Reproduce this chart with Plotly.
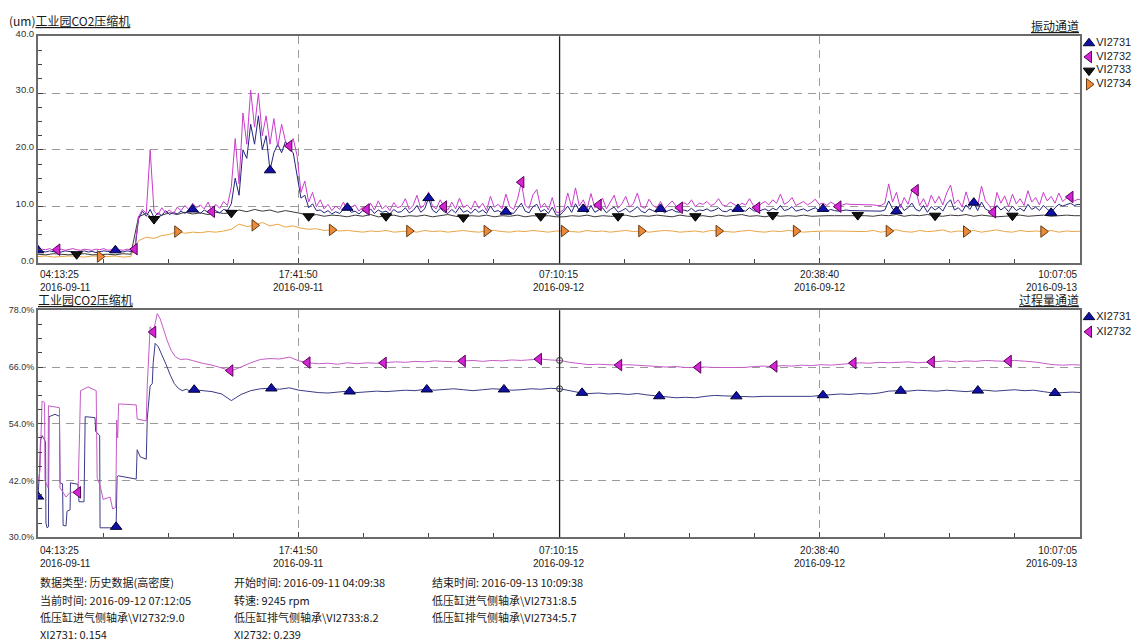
import numpy as np
import pandas as pd
import plotly.graph_objects as go

# ---------------------------------------------------------------------------
# Time base
# ---------------------------------------------------------------------------
W, H = 1136, 644
START = pd.Timestamp("2016-09-11 04:13:25")
TICK_STEP = pd.Timedelta(hours=13, minutes=28, seconds=25)
N_TICKS = 5
CURSOR = pd.Timestamp("2016-09-12 07:12:05")

FAST_STEP_H = 0.2   # 12-minute samples (VI2731 / VI2732)
SLOW_STEP_H = 0.4   # 24-minute samples (VI2733 / VI2734)
TAIL_STEP_H = 0.5   # 30-minute samples (XI tails)
TAIL_START_H = 8.5

# ---------------------------------------------------------------------------
# Vibration channels (um)
# ---------------------------------------------------------------------------
vi2731 = [
    2.3, 2.1, 2.0, 2.2, 2.1, 1.9, 2.0, 2.2, 2.1, 2.0, 1.9, 2.1, 2.2, 2.0, 2.1, 1.9, 2.0, 2.2, 2.1, 2.0,
    2.3, 2.1, 2.0, 2.2, 2.1, 2.0,
    7.8, 9.2, 8.3, 9.5, 8.1, 8.9, 8.4, 9.3, 8.6, 9.0, 8.7, 9.2, 8.8, 9.4, 9.5, 9.1, 8.8, 9.4, 9.0, 9.6,
    9.2, 8.9, 9.5, 9.3,
    10.5, 15.0, 12.0, 20.0, 18.5, 24.5, 21.0, 26.0, 20.0, 22.5, 16.4, 19.5, 21.0, 19.5, 21.5, 20.0,
    19.5, 15.5, 11.5, 12.0, 9.8, 10.5, 9.3,
    9.4, 8.9, 9.3, 8.7, 9.1, 8.8, 9.5, 9.8, 9.0, 9.2,
    8.7, 9.3, 8.9, 9.6, 8.8, 9.4, 9.0, 9.2, 8.7, 9.5,
    9.0, 9.1, 9.8, 8.9, 9.3, 10.2, 9.0, 9.6, 11.5, 9.4,
    8.9, 9.7, 9.1, 8.8, 9.5, 8.9, 9.9, 9.0, 9.3, 8.8,
    9.6, 9.0, 9.4, 8.8, 10.1, 9.1, 9.3, 8.9, 9.1, 9.0,
    8.8, 9.7, 10.6, 9.2, 8.9, 10.0, 10.4, 9.1, 9.5, 8.8,
    9.9, 8.5, 8.5, 9.2, 10.1, 9.0, 10.5, 9.3, 9.6, 8.9,
    10.2, 9.0, 9.4, 9.8, 8.9, 9.5, 9.9, 9.0, 9.3, 9.7,
    9.0, 9.4, 10.0, 9.2, 8.9, 9.6, 9.3, 9.0, 9.6, 8.9,
    9.3, 9.5, 9.1, 9.0, 9.4, 9.2, 9.7, 9.1, 9.4, 9.3,
    9.6, 9.2, 9.4, 9.8, 9.2, 9.1, 9.5, 9.3, 9.6, 9.4,
    9.2, 9.8, 9.3, 9.1, 9.4, 9.6, 9.2, 9.7, 9.4, 10.2,
    9.3, 9.5, 10.0, 9.2, 9.4, 9.6, 9.2, 9.5, 9.8, 9.3,
    9.6, 9.2, 9.5, 9.3, 9.2, 9.3, 9.4, 9.3, 9.3, 9.3,
    9.3, 9.3, 9.2, 9.2, 9.2, 9.2, 9.4, 11.0, 9.6, 9.2,
    10.4, 9.3, 9.8, 10.6, 9.5, 9.2, 10.2, 9.0, 10.0, 9.4,
    9.9, 9.2, 10.5, 11.2, 9.4, 9.8, 9.1, 10.3, 9.5, 10.7,
    9.3, 10.8, 9.6, 9.2, 9.0, 10.2, 9.4, 9.9, 9.1, 10.1,
    9.3, 9.7, 9.2, 10.4, 9.5, 9.9, 9.3, 10.2, 9.6, 8.9,
    9.8, 10.4, 10.1, 10.3, 10.6, 10.2, 10.4, 10.3,
]

vi2732 = [
    2.3, 2.5, 2.4, 2.6, 2.3, 2.4, 2.5, 2.3, 2.4, 2.6, 2.4, 2.3, 2.5, 2.4, 2.3, 2.5, 2.4, 2.6, 2.3, 2.4,
    2.5, 2.4, 2.3, 2.5, 2.4, 2.5,
    8.2, 9.5, 8.8, 20.0, 9.2, 8.5, 9.8, 8.9, 9.4, 8.7, 9.9, 9.3, 10.2, 9.5, 10.6, 9.8, 10.3, 9.6, 10.8,
    9.1, 10.4, 9.7, 10.9, 10.2,
    13.5, 22.0, 14.0, 26.5, 21.0, 30.5, 24.0, 30.0, 22.5, 26.0, 21.0, 25.5, 20.5, 24.5, 21.5, 20.7,
    22.0, 19.0, 12.5, 14.5, 10.8, 12.5, 10.0,
    11.2, 9.6, 10.4, 9.3, 10.1, 9.5, 10.8, 9.4, 9.9, 10.3,
    9.2, 10.0, 9.5, 10.6, 9.4, 11.0, 9.6, 10.2, 9.3, 10.7,
    9.8, 10.1, 11.4, 9.5, 10.2, 12.0, 9.7, 10.4, 12.6, 10.1,
    9.6, 11.2, 10.0, 9.4, 10.8, 9.6, 11.5, 9.8, 10.3, 9.5,
    11.0, 9.7, 10.6, 9.3, 11.8, 9.9, 10.4, 9.6, 12.2, 10.0,
    9.5, 11.3, 14.3, 10.2, 9.7, 12.1, 13.0, 9.8, 10.6, 9.4,
    11.6, 9.0, 9.0, 9.5, 12.4, 9.9, 13.3, 10.1, 11.2, 9.6,
    12.3, 9.8, 10.3, 11.5, 9.6, 10.8, 12.0, 9.7, 10.5, 11.8,
    9.9, 10.6, 12.4, 10.0, 9.7, 11.3, 10.2, 9.8, 10.9, 9.6,
    10.4, 11.0, 10.1, 9.8, 10.7, 10.3, 11.2, 10.0, 10.6, 10.4,
    10.9, 10.2, 10.5, 11.4, 10.3, 10.1, 10.8, 10.4, 10.0, 10.6,
    10.3, 11.4, 10.2, 9.8, 10.5, 10.9, 10.3, 11.2, 10.6, 12.2,
    10.4, 10.8, 11.6, 10.2, 10.5, 10.9, 10.3, 10.7, 11.3, 10.4,
    10.6, 10.2, 10.8, 10.4, 10.0, 10.3, 10.5, 10.4, 10.4, 10.4,
    10.4, 10.3, 10.3, 10.3, 10.2, 10.2, 10.6, 14.0, 10.8, 12.5,
    9.8, 11.6, 10.4, 12.8, 12.9, 10.2, 11.4, 9.9, 12.0, 10.6,
    11.8, 10.3, 12.4, 13.8, 10.5, 11.2, 9.9, 12.6, 10.4, 11.5,
    10.1, 13.6, 11.0, 10.2, 9.0, 12.5, 10.6, 11.9, 10.0, 12.2,
    10.5, 11.4, 10.2, 12.8, 10.8, 11.6, 10.3, 12.5, 11.0, 11.8,
    10.6, 12.4, 10.9, 11.5, 11.7, 11.0, 11.3, 11.1,
]

vi2733 = [
    1.6, 1.5, 1.7, 1.6, 1.5, 1.6, 1.7, 1.5, 1.6, 1.6, 1.5, 1.7, 1.6,
    8.2, 8.8, 7.8, 8.5, 8.9, 8.6, 9.0, 8.7, 8.9, 8.6, 9.0, 8.8, 8.9, 9.4, 9.1, 9.5, 9.2, 9.4, 9.0, 9.3,
    9.1, 8.8, 8.3, 8.6, 8.3, 8.5,
    8.4, 8.2, 8.5, 8.3, 8.6, 8.2, 8.3, 8.5, 8.2, 8.4,
    8.3, 8.5, 8.2, 8.4, 8.6, 8.3, 8.1, 8.4, 8.3, 8.5,
    8.2, 8.4, 8.3, 8.5, 8.2, 8.4, 8.3, 8.4, 8.2, 8.2,
    8.4, 8.3, 8.5, 8.2, 8.4, 8.3, 8.3, 8.5, 8.2, 8.4,
    8.3, 8.5, 8.4, 8.2, 8.5, 8.3, 8.3, 8.4, 8.2, 8.5,
    8.3, 8.4, 8.6, 8.3, 8.4, 8.2, 8.5, 8.3, 8.4, 8.3,
    8.5, 8.3, 8.4, 8.4, 8.4, 8.4, 8.4, 8.5, 8.4, 8.3,
    8.5, 8.4, 8.6, 8.3, 8.5, 8.4, 8.6, 8.4, 8.3, 8.5,
    8.4, 8.6, 8.3, 8.5, 8.4, 8.2, 8.3, 8.4, 8.5, 8.3,
    8.4, 8.5, 8.3, 8.4, 8.5, 8.4, 8.4,
]

vi2734 = [
    1.2, 1.3, 1.1, 1.2, 1.3, 1.2, 1.1, 1.3, 1.2, 1.2, 1.3, 1.1, 1.2,
    4.0, 4.6, 4.4, 4.9, 5.1, 5.6, 5.3, 5.5, 5.4, 5.6, 5.5, 5.7, 6.0, 6.9, 6.5, 6.7, 7.2, 6.6, 6.9, 6.4,
    6.6, 6.2, 6.0, 6.1, 5.8, 5.9,
    5.7, 5.8, 5.6, 5.5, 5.7, 5.6, 5.8, 5.5, 5.6, 5.7,
    5.5, 5.8, 5.6, 5.7, 5.5, 5.6, 5.8, 5.6, 5.5, 5.7,
    5.8, 5.6, 5.5, 5.7, 5.6, 5.8, 5.6, 5.5, 5.7, 5.7,
    5.6, 5.5, 5.8, 5.6, 5.7, 5.5, 5.6, 5.8, 5.6, 5.7,
    5.5, 5.6, 5.8, 5.7, 5.5, 5.6, 5.7, 5.5, 5.8, 5.7,
    5.6, 5.5, 5.7, 5.8, 5.6, 5.5, 5.7, 5.6, 5.8, 5.7,
    5.5, 5.6, 5.7, 5.7, 5.7, 5.7, 5.7, 5.7, 5.6, 5.8,
    5.5, 5.7, 5.9, 5.6, 5.5, 5.8, 5.6, 5.7, 5.9, 5.5,
    5.7, 5.6, 5.8, 5.5, 5.7, 5.9, 5.6, 5.5, 5.8, 5.6,
    5.7, 5.6, 5.8, 5.5, 5.7, 5.6, 5.7,
]

# marker positions along each vibration trace (hours after START)
vi2731_marks_h = [0.0, 4.0, 8.0, 12.0, 16.0, 20.2, 24.2, 28.2, 32.2, 36.2, 40.6, 44.4, 48.4, 52.4]
vi2732_marks_h = [1.0, 5.0, 9.0, 13.0, 17.0, 21.0, 25.0, 29.0, 33.2, 37.2, 41.4, 45.4, 49.4, 53.4]
vi2733_marks_h = [2.0, 6.0, 10.0, 14.0, 18.0, 22.0, 26.0, 30.0, 34.0, 38.0, 42.4, 46.4, 50.4]
vi2734_marks_h = [3.2, 7.2, 11.2, 15.2, 19.2, 23.2, 27.2, 31.2, 35.2, 39.2, 44.0, 48.0, 52.0]

# ---------------------------------------------------------------------------
# Process channels (%): stepped start-up section, then half-hour samples
# ---------------------------------------------------------------------------
xi2731_head_h = [0.00, 0.08, 0.13, 0.21, 0.31, 0.39, 0.41, 0.47, 0.54, 0.57, 0.88, 1.11, 1.14, 1.27,
                 1.30, 1.45, 1.50, 1.66, 1.68, 2.07, 2.12, 2.38, 2.44, 2.95, 2.98, 3.19, 3.21, 3.99,
                 4.04, 4.09, 4.15, 5.08, 5.13, 5.29, 5.60, 5.65, 5.80, 5.91, 5.96, 6.06, 6.22, 6.43,
                 6.63, 6.84, 7.05, 7.26, 7.46, 7.67, 7.88, 8.08]
xi2731_head_v = [38.6, 44.0, 50.5, 51.5, 50.8, 50.2, 33.0, 32.0, 32.2, 55.5, 56.0, 55.6, 41.5, 41.3,
                 32.5, 32.4, 35.5, 35.8, 41.5, 41.2, 37.5, 37.5, 55.5, 55.3, 52.4, 51.5, 32.0, 32.0,
                 32.2, 42.8, 43.0, 42.3, 48.5, 47.0, 46.5, 55.0, 62.0, 62.5, 67.0, 71.0, 70.3, 68.5,
                 66.5, 64.3, 62.5, 61.5, 61.0, 61.3, 60.9, 61.2]
xi2731_tail = [
    61.0, 60.8, 60.3, 58.9, 60.2, 61.0, 61.4, 61.5, 61.3, 61.6,
    61.1, 60.8, 60.6, 60.5, 60.7, 60.9, 60.6, 60.7, 60.9, 60.8,
    61.0, 61.1, 61.0, 61.3, 61.1, 61.2, 61.4, 61.2, 61.0, 61.2,
    61.4, 61.3, 61.1, 61.2, 61.4, 61.3, 61.5, 61.4, 61.0, 60.6,
    60.4, 60.5, 60.3, 60.4, 60.2, 60.4, 60.1, 59.9, 59.6, 59.5,
    59.6, 59.5, 59.8, 60.0, 59.9, 59.8, 59.8, 59.7, 59.8, 59.8,
    59.9, 59.8, 59.9, 59.8, 60.0, 60.2, 60.3, 60.2, 60.4, 60.3,
    60.5, 60.9, 61.0, 60.9, 61.1, 61.0, 60.9, 61.1, 61.0, 60.8,
    61.0, 61.1, 60.9, 61.0, 61.2, 61.0, 61.1, 60.8, 60.5, 60.6,
    60.7, 60.6,
]

xi2732_head_h = [0.00, 0.10, 0.21, 0.34, 0.36, 0.52, 0.54, 1.11, 1.14, 1.45, 1.66, 2.07, 2.15, 2.20,
                 2.59, 3.01, 3.06, 3.21, 3.37, 3.73, 3.86, 4.02, 4.07, 4.12, 4.17, 5.08, 5.13, 5.60,
                 5.65, 5.80, 5.96, 6.06, 6.17, 6.32, 6.48, 6.69, 6.89, 7.10, 7.36, 7.67, 7.98, 8.29]
xi2732_head_v = [41.5, 44.0, 58.8, 58.5, 42.0, 40.5, 57.8, 57.4, 40.5, 38.5, 39.5, 39.5, 52.0, 61.0,
                 61.8, 61.0, 42.5, 41.0, 38.0, 38.5, 36.0, 36.3, 54.8, 51.0, 58.2, 58.0, 55.0, 54.6,
                 62.0, 74.5, 73.4, 75.5, 77.3, 76.2, 74.0, 71.5, 69.5, 68.2, 67.6, 67.7, 67.4, 67.0]
xi2732_tail = [
    66.8, 66.4, 65.8, 65.2, 66.0, 66.9, 67.6, 67.8, 67.7, 68.1,
    67.3, 66.9, 66.7, 66.8, 66.6, 66.9, 66.7, 66.9, 66.8, 66.9,
    67.1, 67.0, 67.2, 67.1, 67.3, 67.2, 67.1, 67.3, 67.4, 67.2,
    67.4, 67.3, 67.5, 67.4, 67.6, 67.7, 67.5, 67.4, 67.0, 66.7,
    66.5, 66.6, 66.5, 66.4, 66.5, 66.4, 66.3, 66.2, 66.0, 66.1,
    65.9, 65.9, 66.0, 65.9, 65.9, 66.0, 65.9, 66.1, 66.2, 66.1,
    66.3, 66.2, 66.4, 66.3, 66.5, 66.4, 66.6, 66.8, 66.9, 66.8,
    67.0, 66.9, 67.0, 67.1, 66.9, 67.0, 67.2, 67.3, 67.1, 67.3,
    67.2, 67.4, 67.3, 67.2, 67.4, 67.3, 67.1, 66.8, 66.5, 66.4,
    66.5, 66.4,
]

xi2731_marks_h = [0.0, 4.04, 8.08, 12.07, 16.12, 20.11, 24.10, 28.14, 32.13, 36.12, 40.6, 44.62,
                  48.61, 52.6]
xi2732_marks_h = [2.07, 5.96, 9.95, 13.94, 17.88, 21.97, 25.91, 30.06, 34.15, 38.09, 42.18, 46.23,
                  50.21]

# status panel under the charts
info_columns = [
    ["数据类型: 历史数据(高密度)", "当前时间: 2016-09-12 07:12:05",
     "低压缸进气侧轴承\\VI2732:9.0", "XI2731: 0.154"],
    ["开始时间: 2016-09-11 04:09:38", "转速: 9245 rpm",
     "低压缸排气侧轴承\\VI2733:8.2", "XI2732: 0.239"],
    ["结束时间: 2016-09-13 10:09:38", "低压缸进气侧轴承\\VI2731:8.5",
     "低压缸排气侧轴承\\VI2734:5.7"],
]

# ---------------------------------------------------------------------------
# Helpers
# ---------------------------------------------------------------------------
def to_time(hours):
    return START + pd.to_timedelta(np.asarray(hours, dtype=float), unit="h")


def px_x(px):
    return px / W


def px_y(py):
    return 1 - py / H


def grid_hours(values, step, start=0.0):
    return start + np.arange(len(values)) * step


END = START + (N_TICKS - 1) * TICK_STEP
tick_times = [START + k * TICK_STEP for k in range(N_TICKS)]
MINOR_MS = TICK_STEP.total_seconds() * 1000 / 4

LATIN = "Liberation Sans, Arial, sans-serif"
CJK = "Noto Sans CJK SC, sans-serif"

h_fast_1 = grid_hours(vi2731, FAST_STEP_H)
h_fast_2 = grid_hours(vi2732, FAST_STEP_H)
h_slow_3 = grid_hours(vi2733, SLOW_STEP_H)
h_slow_4 = grid_hours(vi2734, SLOW_STEP_H)

xi1_h = np.concatenate([xi2731_head_h, grid_hours(xi2731_tail, TAIL_STEP_H, TAIL_START_H)])
xi1_v = np.concatenate([xi2731_head_v, xi2731_tail])
xi2_h = np.concatenate([xi2732_head_h, grid_hours(xi2732_tail, TAIL_STEP_H, TAIL_START_H)])
xi2_v = np.concatenate([xi2732_head_v, xi2732_tail])

# series styles: (name, values, hours, marker hours, line colour, marker colour, outline, symbol)
vib_series = [
    ("VI2734", vi2734, h_slow_4, vi2734_marks_h, "#e9a546", "#ec8a3c", "#6a3a10", "triangle-right"),
    ("VI2733", vi2733, h_slow_3, vi2733_marks_h, "#3a3a3a", "#111111", "#000000", "triangle-down"),
    ("VI2731", vi2731, h_fast_1, vi2731_marks_h, "#24247e", "#1010a8", "#000030", "triangle-up"),
    ("VI2732", vi2732, h_fast_2, vi2732_marks_h, "#c93ccc", "#d424d4", "#5a005a", "triangle-left"),
]
proc_series = [
    ("XI2731", xi1_v, xi1_h, xi2731_marks_h, "#3b3b86", "#1010a8", "#000030", "triangle-up"),
    ("XI2732", xi2_v, xi2_h, xi2732_marks_h, "#c45cc6", "#d424d4", "#5a005a", "triangle-left"),
]

fig = go.Figure()

for xa, ya, series in (("x", "y", vib_series), ("x2", "y2", proc_series)):
    for name, vals, hrs, mk_h, lc, mc, oc, sym in series:
        fig.add_trace(go.Scatter(
            x=to_time(hrs), y=vals, mode="lines", xaxis=xa, yaxis=ya,
            line=dict(color=lc, width=1), showlegend=False, name=name, hoverinfo="skip",
        ))
    for name, vals, hrs, mk_h, lc, mc, oc, sym in series:
        mk_v = np.interp(mk_h, hrs, vals)
        fig.add_trace(go.Scatter(
            x=to_time(mk_h), y=mk_v, mode="markers", xaxis=xa, yaxis=ya,
            marker=dict(symbol=sym, size=10, color=mc, line=dict(color=oc, width=1)),
            showlegend=False, name=name, hoverinfo="skip",
        ))

# cursor read-out circles on the process traces
cursor_h = (CURSOR - START).total_seconds() / 3600
for name, vals, hrs, *_ in proc_series:
    fig.add_trace(go.Scatter(
        x=[CURSOR], y=[np.interp(cursor_h, hrs, vals)], mode="markers", xaxis="x2", yaxis="y2",
        marker=dict(symbol="circle-open", size=6, color="#333333", line=dict(width=1)),
        showlegend=False, hoverinfo="skip",
    ))

# channel keys at the right of each chart
for xa, ya, series in (("x3", "y3", vib_series), ("x4", "y4", proc_series)):
    order = sorted(series, key=lambda s: s[0])
    for row, (name, vals, hrs, mk_h, lc, mc, oc, sym) in enumerate(order):
        fig.add_trace(go.Scatter(
            x=[5], y=[row], mode="markers+text", xaxis=xa, yaxis=ya,
            text=[name], textposition="middle right",
            textfont=dict(family=LATIN, size=11, color="#222222"),
            marker=dict(symbol=sym, size=10, color=mc, line=dict(color=oc, width=1)),
            showlegend=False, hoverinfo="skip", cliponaxis=False,
        ))

# ---------------------------------------------------------------------------
# Axes
# ---------------------------------------------------------------------------
x_dom = [px_x(38), px_x(1080)]
grid_style = dict(showgrid=True, gridcolor="#9a9a9a", gridwidth=1, griddash="8px,6px")
frame = dict(showline=True, mirror=True, linecolor="#6a6a6a", linewidth=2)


def time_axis(anchor):
    return dict(
        domain=x_dom, anchor=anchor, type="date", range=[START, END],
        tickmode="array", tickvals=tick_times, showticklabels=False,
        ticks="inside", ticklen=5, tickcolor="#444444",
        minor=dict(ticks="inside", ticklen=4, tickcolor="#444444", tick0=START, dtick=MINOR_MS,
                   showgrid=False),
        zeroline=False, fixedrange=True, **grid_style, **frame,
    )


top_ticks = [0, 10, 20, 30, 40]
bot_ticks = [30, 42, 54, 66, 78]

fig.update_layout(
    width=W, height=H, margin=dict(l=0, r=0, t=0, b=0),
    paper_bgcolor="white", plot_bgcolor="white", showlegend=False,
    xaxis=time_axis("y"),
    xaxis2=time_axis("y2"),
    yaxis=dict(
        domain=[px_y(260), px_y(28)], anchor="x", range=[0, 40],
        tickmode="array", tickvals=top_ticks, ticktext=[f"{v:.1f}" for v in top_ticks],
        ticks="inside", ticklen=5, tickcolor="#444444", ticklabelshift=-3,
        minor=dict(ticks="inside", ticklen=4, tickcolor="#444444", dtick=2.5, showgrid=False),
        tickfont=dict(family=LATIN, size=9.5, color="#333333"),
        zeroline=False, fixedrange=True, **grid_style, **frame,
    ),
    yaxis2=dict(
        domain=[px_y(540), px_y(308)], anchor="x2", range=[30, 78],
        tickmode="array", tickvals=bot_ticks, ticktext=[f"{v:.1f}%" for v in bot_ticks],
        ticks="inside", ticklen=5, tickcolor="#444444",
        minor=dict(ticks="inside", ticklen=4, tickcolor="#444444", tick0=30, dtick=3,
                   showgrid=False),
        tickfont=dict(family=LATIN, size=9, color="#333333"),
        zeroline=False, fixedrange=True, **grid_style, **frame,
    ),
    xaxis3=dict(domain=[px_x(1084), 1], anchor="y3", range=[0, 52], visible=False, fixedrange=True),
    yaxis3=dict(domain=[px_y(84), px_y(28)], anchor="x3", range=[3.5, -0.5], visible=False,
                fixedrange=True),
    xaxis4=dict(domain=[px_x(1084), 1], anchor="y4", range=[0, 52], visible=False, fixedrange=True),
    yaxis4=dict(domain=[px_y(337.5), px_y(307.5)], anchor="x4", range=[1.5, -0.5], visible=False,
                fixedrange=True),
)

# cursor line at the current time, one per chart
for xa, ya in (("x", "y"), ("x2", "y2")):
    fig.add_shape(type="line", xref=xa, yref=f"{ya} domain", x0=CURSOR, x1=CURSOR, y0=0, y1=1,
                  line=dict(color="#1e1e1e", width=1.3), layer="above")

# ---------------------------------------------------------------------------
# Text
# ---------------------------------------------------------------------------
ann = []


def note(text, x, y, xanchor="left", yanchor="middle", size=11, family=CJK, xref="paper",
         align="left"):
    ann.append(dict(text=text, x=x, y=y, xref=xref, yref="paper", xanchor=xanchor,
                    yanchor=yanchor, showarrow=False, align=align,
                    font=dict(family=family, size=size, color="#1a1a1a")))


note("(um)<u>工业园CO2压缩机</u>", px_x(7), px_y(23), yanchor="bottom", size=12)
note("<u>振动通道</u>", px_x(1081), px_y(28), xanchor="right", yanchor="bottom", size=12)
note("<u>工业园CO2压缩机</u>", px_x(36), px_y(308), yanchor="bottom", size=12)
note("<u>过程量通道</u>", px_x(1081), px_y(308), xanchor="right", yanchor="bottom", size=12)

for xref, top in (("x", 264), ("x2", 546)):
    for k, t in enumerate(tick_times):
        anchor = "left" if k == 0 else ("right" if k == N_TICKS - 1 else "center")
        note(f"{t:%H:%M:%S}<br>{t:%Y-%m-%d}", t, px_y(top), xanchor=anchor, yanchor="top",
             size=10, family=LATIN, xref=xref, align=anchor)

col_x = [38, 232, 430]
row_y = [586, 604, 622, 639]
for cx, lines in zip(col_x, info_columns):
    for ry, line in zip(row_y, lines):
        note(line, px_x(cx), px_y(ry), size=11)

fig.update_layout(annotations=ann)

fig.write_html("out.html")
